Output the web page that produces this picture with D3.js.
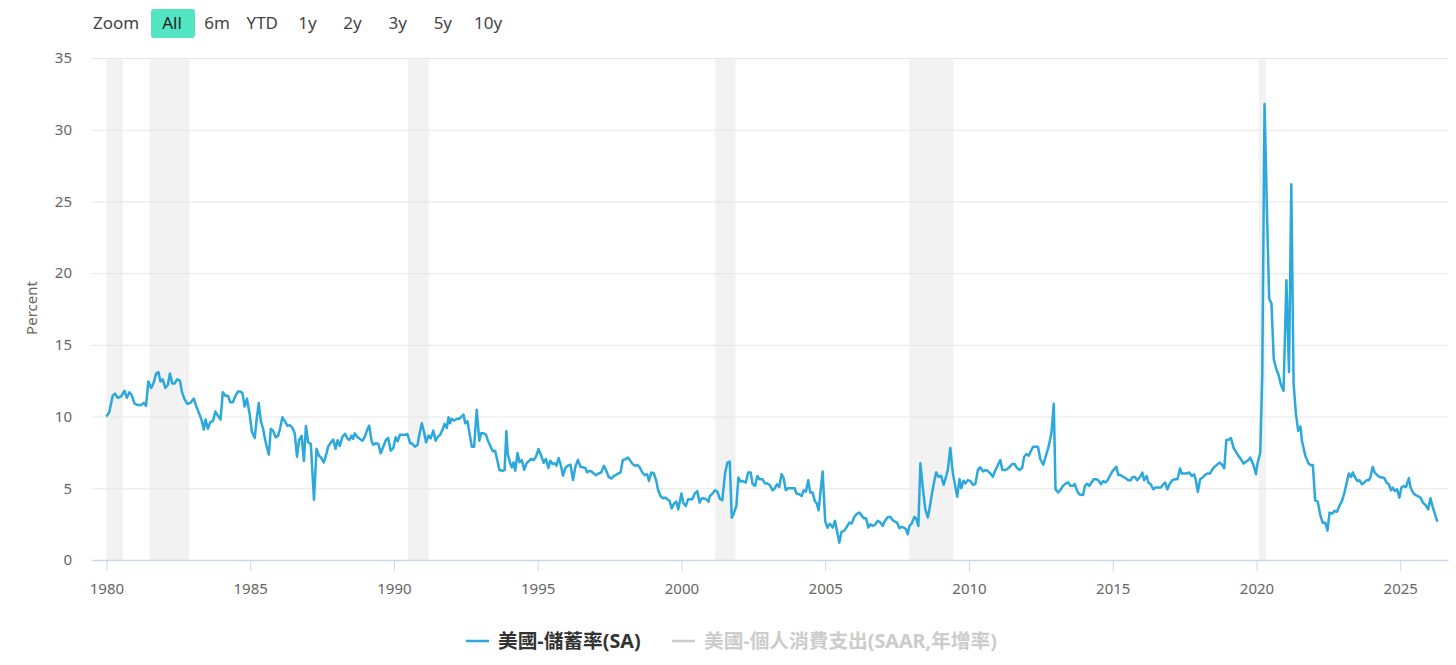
<!DOCTYPE html>
<html>
<head>
<meta charset="utf-8">
<script src="https://cdn.jsdelivr.net/npm/d3@7/dist/d3.min.js"></script>
<style>
    body { margin: 0; background: #fff; }
    text { font-family: "Noto Sans", "Noto Sans CJK TC", sans-serif; }
</style>
</head>
<body>
<div id="chart"></div>
<script>
// ===========================================================
// DATA (decimal years)
// ===========================================================
var dates = [
    1980.00, 1980.10, 1980.22, 1980.30, 1980.39, 1980.51, 1980.63, 1980.71, 1980.80, 1980.88, 1980.98,
    1981.09, 1981.21, 1981.30, 1981.38, 1981.46, 1981.56, 1981.65, 1981.73, 1981.81, 1981.88, 1981.96,
    1982.05, 1982.14, 1982.21, 1982.29, 1982.37, 1982.46, 1982.56, 1982.63, 1982.72, 1982.81, 1982.92,
    1983.04, 1983.13, 1983.24, 1983.32, 1983.39, 1983.45, 1983.53, 1983.61, 1983.71, 1983.79, 1983.88, 1983.97,
    1984.05, 1984.14, 1984.23, 1984.31, 1984.40, 1984.49, 1984.58, 1984.66, 1984.73, 1984.81, 1984.89, 1984.98,
    1985.06, 1985.16, 1985.22, 1985.30, 1985.37, 1985.45, 1985.54, 1985.65, 1985.72, 1985.80, 1985.89, 1985.97,
    1986.04, 1986.12, 1986.20, 1986.30, 1986.38, 1986.46, 1986.55, 1986.63, 1986.70, 1986.79, 1986.87, 1986.94,
    1987.02, 1987.11, 1987.22, 1987.31, 1987.39, 1987.48, 1987.56, 1987.66, 1987.71, 1987.81, 1987.89, 1987.97,
    1988.04, 1988.12, 1988.20, 1988.30, 1988.38, 1988.45, 1988.53, 1988.58, 1988.64, 1988.72, 1988.82, 1988.91, 1988.99,
    1989.07, 1989.14, 1989.22, 1989.28, 1989.37, 1989.46, 1989.54, 1989.63, 1989.72, 1989.80, 1989.89, 1989.98,
    1990.06, 1990.13, 1990.21, 1990.29, 1990.39, 1990.47, 1990.56, 1990.65, 1990.73, 1990.82, 1990.89, 1990.97,
    1991.05, 1991.12, 1991.20, 1991.28, 1991.37, 1991.45, 1991.52, 1991.61, 1991.69, 1991.76, 1991.84, 1991.90, 1991.95,
    1992.01, 1992.09, 1992.19, 1992.27, 1992.33, 1992.42, 1992.48, 1992.56, 1992.63, 1992.71, 1992.79, 1992.88, 1992.97,
    1993.03, 1993.12, 1993.20, 1993.27, 1993.35, 1993.44, 1993.52, 1993.60, 1993.67, 1993.78, 1993.85, 1993.91, 1993.96,
    1994.05, 1994.10, 1994.16, 1994.22, 1994.30, 1994.37, 1994.45, 1994.53, 1994.60, 1994.68, 1994.77, 1994.86, 1994.94,
    1995.03, 1995.11, 1995.21, 1995.29, 1995.37, 1995.44, 1995.52, 1995.59, 1995.65, 1995.73, 1995.81, 1995.88, 1995.96,
    1996.04, 1996.14, 1996.23, 1996.31, 1996.40, 1996.49, 1996.58, 1996.66, 1996.72, 1996.81, 1996.87, 1996.95,
    1997.03, 1997.12, 1997.21, 1997.30, 1997.38, 1997.47, 1997.57, 1997.65, 1997.73, 1997.80, 1997.88, 1997.96,
    1998.05, 1998.14, 1998.21, 1998.29, 1998.38, 1998.46, 1998.54, 1998.64, 1998.72, 1998.81, 1998.87, 1998.95,
    1999.04, 1999.12, 1999.19, 1999.27, 1999.36, 1999.45, 1999.51, 1999.59, 1999.66, 1999.74, 1999.82, 1999.89,
    2000.00, 2000.06, 2000.15, 2000.23, 2000.30, 2000.38, 2000.46, 2000.55, 2000.63, 2000.70, 2000.78, 2000.87, 2000.94, 2000.99,
    2001.08, 2001.17, 2001.25, 2001.33, 2001.42, 2001.52, 2001.60, 2001.68, 2001.75, 2001.83, 2001.91, 2001.98,
    2002.06, 2002.14, 2002.24, 2002.32, 2002.41, 2002.47, 2002.56, 2002.64, 2002.72, 2002.82, 2002.90, 2002.99,
    2003.07, 2003.17, 2003.25, 2003.32, 2003.40, 2003.48, 2003.55, 2003.63, 2003.71, 2003.78, 2003.86, 2003.94,
    2004.00, 2004.10, 2004.18, 2004.25, 2004.33, 2004.41, 2004.48, 2004.56, 2004.64, 2004.71, 2004.77, 2004.91,
    2005.00, 2005.08, 2005.16, 2005.26, 2005.34, 2005.41, 2005.49, 2005.57, 2005.66, 2005.75, 2005.84, 2005.92,
    2006.01, 2006.11, 2006.19, 2006.27, 2006.34, 2006.42, 2006.50, 2006.57, 2006.65, 2006.73, 2006.83, 2006.92,
    2007.00, 2007.08, 2007.18, 2007.27, 2007.35, 2007.43, 2007.50, 2007.58, 2007.66, 2007.73, 2007.81, 2007.87, 2007.93,
    2008.01, 2008.10, 2008.16, 2008.24, 2008.31, 2008.40, 2008.48, 2008.57, 2008.63, 2008.72, 2008.80, 2008.86, 2008.94,
    2009.03, 2009.12, 2009.21, 2009.27, 2009.35, 2009.44, 2009.52, 2009.59, 2009.67, 2009.73, 2009.81, 2009.88, 2009.96,
    2010.04, 2010.14, 2010.22, 2010.31, 2010.39, 2010.49, 2010.57, 2010.64, 2010.74, 2010.83, 2010.92,
    2011.01, 2011.09, 2011.16, 2011.24, 2011.33, 2011.42, 2011.50, 2011.59, 2011.67, 2011.76, 2011.85, 2011.92,
    2012.00, 2012.08, 2012.15, 2012.23, 2012.31, 2012.40, 2012.48, 2012.58, 2012.66, 2012.73, 2012.81, 2012.87, 2012.95,
    2013.01, 2013.10, 2013.18, 2013.27, 2013.37, 2013.45, 2013.53, 2013.62, 2013.68, 2013.76, 2013.83, 2013.91, 2013.97,
    2014.03, 2014.11, 2014.18, 2014.26, 2014.34, 2014.44, 2014.52, 2014.59, 2014.67, 2014.75, 2014.82, 2014.90,
    2015.00, 2015.08, 2015.13, 2015.19, 2015.27, 2015.37, 2015.45, 2015.54, 2015.62, 2015.69, 2015.77, 2015.85, 2015.95,
    2016.03, 2016.09, 2016.18, 2016.24, 2016.32, 2016.41, 2016.49, 2016.59, 2016.67, 2016.74, 2016.82, 2016.90, 2016.99,
    2017.07, 2017.17, 2017.25, 2017.34, 2017.40, 2017.48, 2017.57, 2017.66, 2017.75, 2017.83, 2017.89, 2017.96,
    2018.04, 2018.13, 2018.21, 2018.29, 2018.39, 2018.47, 2018.54, 2018.62, 2018.71, 2018.79, 2018.88, 2018.95,
    2019.03, 2019.11, 2019.20, 2019.28, 2019.37, 2019.46, 2019.55, 2019.63, 2019.72, 2019.78, 2019.86, 2019.92, 2019.98,
    2020.04, 2020.13, 2020.20, 2020.28, 2020.36, 2020.44, 2020.52, 2020.60, 2020.69, 2020.77, 2020.85, 2020.94,
    2021.04, 2021.13, 2021.21, 2021.29, 2021.37, 2021.45, 2021.53, 2021.58, 2021.70, 2021.81, 2021.89, 2021.96,
    2022.04, 2022.13, 2022.22, 2022.30, 2022.39, 2022.47, 2022.54, 2022.63, 2022.71, 2022.80, 2022.88, 2022.97,
    2023.06, 2023.13, 2023.21, 2023.29, 2023.35, 2023.42, 2023.50, 2023.58, 2023.67, 2023.75, 2023.82, 2023.90, 2023.96,
    2024.04, 2024.11, 2024.19, 2024.28, 2024.37, 2024.45, 2024.52, 2024.60, 2024.68, 2024.74, 2024.81, 2024.89, 2024.97,
    2025.04, 2025.12, 2025.20, 2025.30, 2025.36, 2025.44, 2025.53, 2025.61, 2025.70, 2025.79, 2025.88, 2025.97,
    2026.05, 2026.13, 2026.20, 2026.29
];

var savingsRate = [
    10.0, 10.3, 11.46, 11.6, 11.3, 11.4, 11.8, 11.3, 11.7, 11.5, 10.9,
    10.8, 10.8, 10.95, 10.75, 12.45, 12.0, 12.4, 13.0, 13.1, 12.45, 12.6,
    12.0, 12.2, 13.0, 12.3, 12.3, 12.6, 12.5, 11.7, 11.2, 10.9, 10.95,
    11.25, 10.7, 10.15, 9.7, 9.1, 9.8, 9.15, 9.6, 9.7, 10.35, 10.05, 9.8,
    11.7, 11.45, 11.45, 11.0, 11.0, 11.45, 11.75, 11.75, 11.65, 10.7, 11.25, 10.2,
    8.95, 8.5, 9.7, 10.95, 9.7, 9.15, 8.2, 7.35, 9.15, 9.0, 8.55, 8.65,
    9.15, 9.95, 9.7, 9.35, 9.4, 9.25, 8.85, 7.2, 8.35, 8.65, 6.9, 9.35,
    8.2, 8.1, 4.2, 7.75, 7.3, 7.1, 6.8, 7.45, 7.9, 8.2, 8.4, 7.75,
    8.35, 7.95, 8.55, 8.8, 8.48, 8.37, 8.67, 8.44, 8.83, 8.6, 8.44, 8.32, 8.6,
    9.07, 9.37, 8.32, 8.04, 8.14, 8.09, 7.44, 7.9, 8.37, 8.51, 7.62, 7.81,
    8.56, 8.28, 8.74, 8.74, 8.72, 8.79, 8.16, 8.09, 7.9, 8.02, 8.79, 9.53,
    8.9, 8.2, 8.67, 8.48, 9.02, 8.32, 8.56, 8.74, 9.07, 9.49, 9.2, 9.95, 9.53,
    9.84, 9.72, 9.84, 9.84, 9.95, 10.14, 9.53, 9.67, 8.83, 7.9, 7.9, 10.47, 8.32,
    8.83, 8.83, 8.74, 8.32, 7.97, 7.58, 7.62, 6.92, 6.27, 6.22, 6.27, 8.97, 7.39,
    6.69, 6.46, 6.81, 6.22, 7.46, 6.81, 6.97, 6.29, 6.69, 6.88, 7.04, 6.97, 7.2,
    7.74, 7.34, 6.78, 7.04, 6.41, 6.92, 6.69, 6.74, 6.57, 7.11, 6.57, 5.87, 6.41,
    6.57, 6.64, 5.57, 6.5, 6.97, 6.5, 6.46, 6.41, 6.11, 6.22, 6.17, 6.03,
    5.91, 6.03, 6.1, 6.56, 6.26, 5.79, 5.68, 5.86, 5.93, 6.03, 6.1, 6.96,
    7.03, 7.14, 6.96, 6.72, 6.56, 6.63, 6.49, 6.1, 5.91, 5.98, 5.51, 6.1,
    6.03, 5.56, 4.86, 4.46, 4.3, 4.35, 4.23, 4.11, 3.6, 3.93, 4.07, 3.53,
    4.63, 4.0, 3.76, 4.23, 4.23, 4.23, 4.63, 4.81, 4.0, 4.28, 4.3, 4.23, 4.07, 4.46,
    4.63, 4.86, 4.77, 4.28, 4.16, 6.1, 6.79, 6.86, 2.95, 3.3, 3.76, 5.75,
    5.47, 5.51, 5.4, 6.1, 6.1, 5.33, 5.16, 5.86, 5.63, 5.63, 5.35, 5.33,
    5.23, 4.86, 5.0, 5.28, 5.09, 5.98, 5.75, 4.86, 5.0, 5.0, 5.0, 5.0,
    4.63, 4.58, 4.46, 4.86, 4.77, 5.56, 4.7, 4.7, 4.11, 3.93, 3.46, 6.17,
    2.72, 2.25, 2.53, 2.26, 2.73, 2.03, 1.21, 1.98, 2.03, 2.31, 2.61, 2.54,
    3.0, 3.24, 3.31, 3.08, 2.91, 2.91, 2.26, 2.49, 2.38, 2.45, 2.73, 2.61,
    2.38, 2.73, 3.0, 3.0, 2.77, 2.68, 2.61, 2.21, 2.31, 2.26, 2.14, 1.79, 2.38,
    2.54, 3.0, 2.91, 2.38, 6.74, 4.94, 3.54, 2.96, 3.61, 4.71, 5.57, 6.11, 5.8,
    5.87, 5.24, 5.87, 6.34, 7.81, 6.04, 5.17, 4.41, 5.64, 5.01, 5.52, 5.34, 5.57,
    5.52, 5.24, 5.29, 6.27, 6.46, 6.18, 6.27, 6.22, 6.04, 5.8, 6.27,
    6.64, 6.97, 6.27, 6.27, 6.34, 6.5, 6.69, 6.69, 6.41, 6.27, 6.41, 7.2,
    7.39, 7.27, 7.58, 7.9, 7.9, 7.9, 7.04, 6.64, 7.16, 7.62, 8.27, 8.9, 10.89,
    4.94, 4.71, 4.87, 5.17, 5.34, 5.41, 5.17, 5.17, 5.29, 4.83, 4.59, 4.55, 4.53,
    5.16, 5.33, 5.16, 5.4, 5.63, 5.63, 5.51, 5.28, 5.51, 5.4, 5.56, 5.86,
    6.21, 6.4, 6.49, 5.93, 5.93, 5.79, 5.7, 5.56, 5.56, 5.79, 5.79, 5.56, 5.79,
    6.1, 5.56, 5.86, 5.4, 5.28, 4.93, 5.05, 5.05, 5.05, 5.23, 5.4, 4.93, 5.33,
    5.56, 5.63, 5.63, 6.38, 6.03, 6.03, 6.03, 6.1, 5.86, 5.98, 5.56, 4.74,
    5.63, 5.75, 5.93, 6.03, 6.03, 6.33, 6.49, 6.63, 6.79, 6.68, 6.4, 8.36,
    8.38, 8.5, 7.84, 7.56, 7.26, 7.03, 6.72, 6.86, 6.96, 7.14, 6.79, 6.45, 5.98,
    6.78, 7.48, 12.9, 31.8, 24.6, 18.2, 17.9, 14.0, 13.3, 12.9, 12.2, 11.8,
    19.5, 13.1, 26.2, 12.3, 10.2, 9.0, 9.3, 8.31, 7.26, 6.72, 6.6, 6.63,
    4.16, 4.07, 3.13, 2.6, 2.6, 2.05, 3.3, 3.23, 3.41, 3.37, 3.76, 4.11,
    4.7, 5.33, 6.03, 5.79, 6.1, 5.79, 5.51, 5.56, 5.28, 5.4, 5.56, 5.56, 5.75,
    6.49, 6.1, 5.93, 5.79, 5.75, 5.7, 5.4, 5.28, 4.86, 5.05, 4.81, 4.93, 4.35,
    5.05, 5.16, 5.09, 5.7, 5.05, 4.7, 4.53, 4.46, 4.35, 4.0, 3.83, 3.53,
    4.3, 3.69, 3.23, 2.67
];

var recessionStart = [1980.00, 1981.50, 1990.50, 2001.17, 2007.92, 2020.08];
var recessionEnd   = [1980.58, 1982.88, 1991.21, 2001.88, 2009.46, 2020.33];

var yTicks = [0, 5, 10, 15, 20, 25, 30, 35];
var xTicks = [1980, 1985, 1990, 1995, 2000, 2005, 2010, 2015, 2020, 2025];
var zoomLabels = ["All", "6m", "YTD", "1y", "2y", "3y", "5y", "10y"];
var seriesNames = ["美國-儲蓄率(SA)", "美國-個人消費支出(SAAR,年增率)"];

// ===========================================================
// SET SIZES
// ===========================================================
var svgWidth = 1456;
var svgHeight = 665;

var plot = { left: 92, right: 1448, top: 58, bottom: 560 };

var svg = d3.select('#chart')
    .append('svg')
    .attr('width', svgWidth)
    .attr('height', svgHeight);

// ===========================================================
// SCALES
// ===========================================================
var x = d3.scaleLinear()
    .domain([1979.5, 2026.66])
    .range([plot.left, plot.right]);

var y = d3.scaleLinear()
    .domain([0, 35])
    .range([plot.bottom, plot.top]);

// ===========================================================
// RECESSION BANDS + GRID
// ===========================================================
svg.append('g')
    .selectAll('rect')
    .data(recessionStart)
    .enter()
    .append('rect')
    .attr('x', (d, i) => x(d))
    .attr('width', (d, i) => x(recessionEnd[i]) - x(d))
    .attr('y', plot.top)
    .attr('height', plot.bottom - plot.top)
    .attr('fill', '#f2f2f2');

var yAxis = svg.append('g')
    .attr('transform', `translate(${plot.left},0)`)
    .call(d3.axisLeft(y).tickValues(yTicks).tickSize(-(plot.right - plot.left)).tickPadding(20));
yAxis.select('.domain').remove();
yAxis.selectAll('line').attr('stroke', '#e6e6e6');
yAxis.selectAll('text')
    .attr('fill', '#666')
    .style('font-size', '15px');

var xAxis = svg.append('g')
    .attr('transform', `translate(0,${plot.bottom})`)
    .call(d3.axisBottom(x).tickValues(xTicks).tickFormat(d3.format('d')).tickSize(11).tickSizeOuter(0).tickPadding(12));
xAxis.select('.domain').attr('stroke', '#ccd6eb').attr('stroke-width', 1.5);
xAxis.selectAll('line').attr('stroke', '#ccd6eb');
xAxis.selectAll('text')
    .attr('fill', '#666')
    .style('font-size', '15px');

svg.append('text')
    .attr('transform', 'translate(37,308) rotate(-90)')
    .attr('text-anchor', 'middle')
    .attr('fill', '#666')
    .style('font-size', '15px')
    .text('Percent');

// ===========================================================
// LINE
// ===========================================================
var line = d3.line()
    .x((d, i) => x(dates[i]))
    .y(d => y(d));

svg.append('path')
    .datum(savingsRate)
    .attr('fill', 'none')
    .attr('stroke', '#2ba8dc')
    .attr('stroke-width', 2.5)
    .attr('stroke-linejoin', 'round')
    .attr('d', line);

// ===========================================================
// ZOOM BUTTONS
// ===========================================================
var btn = d3.scalePoint()
    .domain(zoomLabels)
    .range([172, 488]);

svg.append('text')
    .attr('x', 93)
    .attr('y', 23)
    .attr('dy', '0.35em')
    .attr('fill', '#444')
    .style('font-size', '17px')
    .text('Zoom');

svg.append('rect')
    .attr('x', btn('All') - 21)
    .attr('y', 9)
    .attr('width', 44)
    .attr('height', 29)
    .attr('rx', 3)
    .attr('fill', '#52e5c1');

svg.append('g')
    .selectAll('text')
    .data(zoomLabels)
    .enter()
    .append('text')
    .attr('x', d => btn(d))
    .attr('y', 23)
    .attr('dy', '0.35em')
    .attr('text-anchor', 'middle')
    .attr('fill', d => d === 'All' ? '#222' : '#444')
    .style('font-size', '17px')
    .text(d => d);

// ===========================================================
// LEGEND
// ===========================================================
var legendX = [466, 672];
var legendColor = ['#2ba8dc', '#cccccc'];
var legendText = ['#333', '#cccccc'];

var legend = svg.append('g')
    .selectAll('g')
    .data(seriesNames)
    .enter()
    .append('g')
    .attr('transform', (d, i) => `translate(${legendX[i]},641)`);

legend.append('line')
    .attr('x1', 0).attr('x2', 23)
    .attr('stroke', (d, i) => legendColor[i])
    .attr('stroke-width', 2.5);

legend.append('text')
    .attr('x', 32)
    .attr('dy', '0.35em')
    .attr('fill', (d, i) => legendText[i])
    .style('font-size', '19.7px')
    .style('font-weight', 'bold')
    .text(d => d);
</script>
</body>
</html>
